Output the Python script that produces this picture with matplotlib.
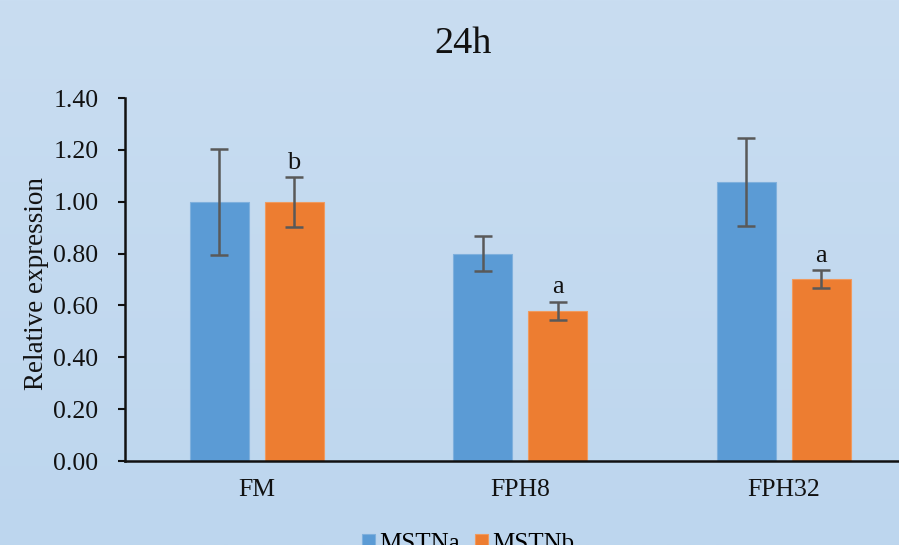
import numpy as np
import matplotlib
matplotlib.use("Agg")
import matplotlib.pyplot as plt
from matplotlib.colors import LinearSegmentedColormap

plt.rcParams["font.family"] = ["Liberation Serif", "DejaVu Serif"]

categories = ["FM", "FPH8", "FPH32"]
series_names = ["MSTNa", "MSTNb"]
mstna = [1.00, 0.80, 1.077]
mstna_err = [0.205, 0.067, 0.17]
mstnb = [1.00, 0.58, 0.702]
mstnb_err = [0.096, 0.035, 0.035]
mstnb_letters = ["b", "a", "a"]
yticks = [0.0, 0.2, 0.4, 0.6, 0.8, 1.0, 1.2, 1.4]

W, H = 899, 545
fig = plt.figure(figsize=(W / 100, H / 100), dpi=100)

# background gradient
bg = fig.add_axes([0, 0, 1, 1], zorder=-10)
cmap = LinearSegmentedColormap.from_list("bg", ["#C9DDF1", "#BDD6EE"])
bg.imshow(np.linspace(0, 1, 256).reshape(-1, 1), aspect="auto", cmap=cmap,
          extent=[0, 1, 0, 1])
bg.axis("off")

left, right = 125 / W, 915.5 / W
bottom, top = 1 - 461 / H, 1 - 98 / H
ax = fig.add_axes([left, bottom, right - left, top - bottom])
ax.patch.set_alpha(0)

x = np.arange(len(categories))
w = 0.224
off = 0.1415
err_kw = dict(ecolor="#595959", elinewidth=1.8, capsize=6.5, capthick=1.8)
ax.bar(x - off, mstna, w, yerr=mstna_err, color="#5B9BD5",
       edgecolor="#7FB0DD", linewidth=0.8, error_kw=err_kw, label=series_names[0])
ax.bar(x + off, mstnb, w, yerr=mstnb_err, color="#ED7D31",
       edgecolor="#F09A5E", linewidth=0.8, error_kw=err_kw, label=series_names[1])

for i, lab in enumerate(mstnb_letters):
    ax.text(x[i] + off, mstnb[i] + mstnb_err[i] + 0.012, lab, ha="center",
            va="bottom", fontsize=19, color="#111111")

ax.set_xlim(-0.5, len(categories) - 0.5)
ax.set_ylim(0, 1.4)
ax.set_yticks(yticks)
ax.set_yticklabels([f"{v:.2f}" for v in yticks])
ax.set_xticks(x)
ax.set_xticklabels(categories)
ax.tick_params(axis="y", direction="out", length=5, width=1.5, labelsize=18.5,
               pad=14, colors="#111111")
ax.tick_params(axis="x", length=0, labelsize=18.5, pad=13, colors="#111111")
for s in ["top", "right"]:
    ax.spines[s].set_visible(False)
for s in ["left", "bottom"]:
    ax.spines[s].set_linewidth(1.8)
    ax.spines[s].set_color("#111111")

ax.set_ylabel("Relative expression", fontsize=19.5, color="#111111")
ax.yaxis.set_label_coords(-0.096, 0.49)
fig.text(463 / W, 1 - 44 / H, "24h", ha="center", va="center", fontsize=27.5,
         color="#111111")

fig.legend(loc="upper center", bbox_to_anchor=(468 / W, 1 - 511 / H), ncol=2,
           frameon=False, fontsize=18, handlelength=0.55, handleheight=0.55,
           handletextpad=0.15, columnspacing=0.6)

fig.savefig("out.png", dpi=100)
